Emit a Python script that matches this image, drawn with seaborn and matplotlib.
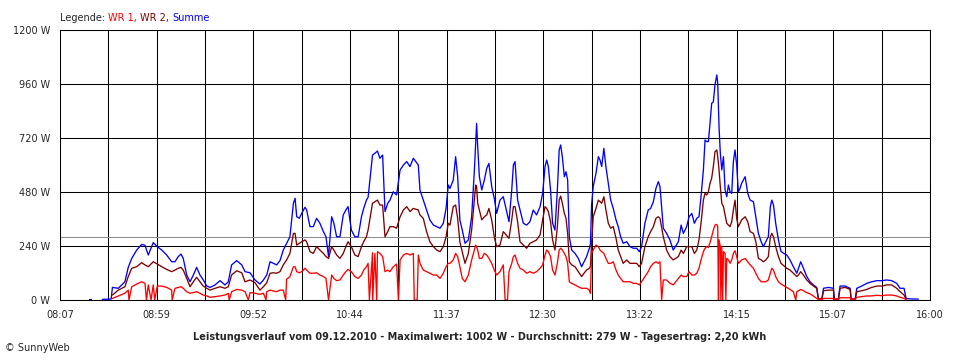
import numpy as np
import pandas as pd
import seaborn as sns
import matplotlib.pyplot as plt

# --- data (minutes after 08:07, watts) ---
t_min = [28.5, 31.7, 35.3, 37.1, 39.0, 41.7, 44.4, 46.2, 48.0, 50.7, 52.9, 55.3, 58.0, 60.7, 62.5,
         64.3, 65.8, 67.0, 68.9, 70.7, 72.5, 74.3, 76.1, 77.9, 79.8, 81.6, 84.3, 87.0, 89.7, 91.5,
         93.3, 96.1, 98.8, 100.6, 103.3, 106.0, 108.7, 110.6, 112.4, 114.2, 116.0, 117.8, 119.6, 121.4,
         123.2, 125.0, 126.9, 127.8, 128.7, 130.1, 131.4, 133.2, 134.1, 135.9, 137.7, 139.5, 141.3,
         143.2, 144.6, 146.0, 147.7, 148.9, 150.4, 152.2, 154.0, 155.4, 156.6, 158.4, 160.3, 162.1,
         163.9, 165.1, 166.6, 167.5, 169.9, 171.2, 172.6, 173.9, 175.4, 176.7, 178.2, 179.4, 181.2,
         183.0, 184.9, 186.7, 188.5, 190.3, 192.1, 194.8, 195.7, 197.5, 199.3, 201.1, 203.0, 204.8,
         206.6, 208.4, 209.9, 211.1, 212.0, 213.8, 215.1, 216.2, 217.4, 218.7, 220.2, 222.0, 223.8,
         225.3, 226.0, 226.5, 227.1, 228.0, 229.3, 230.7, 232.0, 233.2, 234.7, 236.1, 237.4, 239.2,
         241.0, 244.1, 245.6, 246.5, 247.4, 248.8, 250.1, 251.9, 253.7, 255.5, 257.3, 259.1, 261.0,
         262.4, 263.7, 264.6, 265.5, 266.7, 267.8, 269.1, 270.4, 271.4, 272.2, 273.1, 274.2, 275.1,
         276.0, 276.9, 278.2, 280.0, 281.8, 283.6, 284.9, 286.3, 287.8, 288.4, 289.0, 289.9, 291.4,
         292.7, 293.6, 294.5, 295.7, 296.8, 298.1, 299.4, 300.8, 302.3, 303.5, 304.8, 306.2, 308.1,
         309.9, 311.7, 313.5, 315.0, 316.2, 318.0, 319.8, 321.1, 322.6, 324.0, 325.3, 326.2, 328.0,
         329.8, 331.6, 333.4, 336.2, 337.7, 338.9, 340.7, 342.0, 343.5, 344.9, 346.2, 347.4, 348.5,
         349.8, 350.7, 351.6, 352.5, 353.4, 354.3, 355.2, 356.1, 357.1, 357.6, 358.3, 359.0, 359.8,
         360.7, 361.6, 362.5, 363.4, 364.3, 365.2, 366.1, 367.0, 367.9, 368.8, 369.7, 370.6, 372.5,
         373.9, 375.2, 377.0, 378.3, 379.7, 381.2, 382.4, 383.7, 385.1, 386.2, 387.0, 387.9, 389.1,
         390.6, 392.0, 395.1, 396.9, 398.7, 400.6, 401.5, 402.7, 404.2, 406.0, 407.8, 409.6, 411.4,
         412.3, 414.2, 415.1, 417.8, 420.5, 421.0, 423.2, 424.1, 426.8, 429.6, 430.1, 432.3, 433.2,
         435.9, 438.6, 441.3, 444.1, 446.8, 449.5, 452.2, 454.9, 456.7, 458.9, 460.0]

wr1 = [7, 18, 30, 44, 59, 71, 81, 74, 67, 67, 62, 62, 56, 44, 52,
       56, 59, 52, 37, 30, 33, 37, 30, 22, 18, 12, 15, 18, 22, 30,
       37, 47, 44, 37, 33, 30, 25, 30, 37, 44, 40, 37, 44, 44,
       92, 104, 148, 148, 126, 121, 126, 141, 133, 119, 119, 121, 111,
       104, 96, 0, 111, 96, 86, 89, 111, 126, 136, 126, 104, 96,
       111, 133, 148, 163, 210, 207, 215, 207, 193, 126, 133, 126, 148,
       160, 178, 200, 207, 200, 207, 200, 163, 133, 126, 119, 111, 111,
       96, 119, 148, 163, 163, 178, 207, 193, 148, 96, 81, 111, 178,
       222, 244, 237, 222, 185, 185, 207, 200, 185, 163, 133, 111, 126,
       156, 126, 163, 193, 200, 163, 141, 133, 119, 126, 119, 126, 141,
       156, 200, 222, 215, 193, 133, 111, 163, 222, 230, 222, 207, 193,
       163, 81, 74, 67, 59, 52, 52, 52, 44, 30, 207, 222, 244,
       237, 222, 215, 207, 185, 163, 163, 170, 133, 111, 96, 81, 81,
       81, 74, 74, 67, 81, 104, 126, 148, 163, 170, 163, 170, 89,
       89, 74, 67, 96, 111, 104, 104, 126, 111, 111, 119, 141, 178,
       215, 230, 237, 234, 255, 281, 311, 333, 336, 326, 267, 237, 237,
       215, 207, 185, 178, 163, 178, 207, 219, 193, 163, 170, 178, 185,
       170, 156, 141, 119, 96, 81, 81, 81, 89, 119, 141, 133, 104,
       81, 71, 56, 47, 37, 37, 41, 47, 41, 33, 27, 18, 7,
       3, 3, 7, 7, 7, 3, 3, 10, 10, 10, 3, 3, 12,
       15, 18, 18, 21, 19, 22, 22, 18, 12, 7, 2]

wr2 = [22, 44, 59, 104, 141, 148, 166, 156, 148, 170, 160, 148, 136, 126, 133,
       141, 145, 133, 96, 59, 81, 101, 81, 62, 52, 44, 52, 59, 52, 59,
       111, 130, 121, 81, 89, 77, 44, 59, 77, 119, 121, 119, 126, 156,
       178, 207, 296, 296, 244, 252, 259, 267, 259, 215, 207, 237, 222,
       207, 193, 185, 237, 222, 200, 185, 207, 237, 259, 237, 200, 193,
       237, 259, 281, 311, 430, 437, 444, 422, 422, 281, 304, 326, 326,
       319, 370, 400, 415, 393, 407, 400, 378, 363, 304, 259, 237, 222,
       215, 237, 281, 341, 333, 415, 422, 363, 259, 215, 163, 207, 311,
       444, 511, 504, 430, 400, 356, 370, 378, 407, 356, 281, 237, 244,
       304, 274, 356, 415, 415, 348, 259, 244, 230, 252, 259, 267, 289,
       356, 415, 407, 393, 348, 267, 222, 326, 444, 462, 430, 385, 363,
       296, 170, 156, 148, 126, 104, 119, 133, 141, 150, 252, 370, 407,
       444, 437, 430, 459, 400, 341, 319, 326, 274, 222, 193, 163, 178,
       163, 163, 163, 148, 163, 237, 281, 304, 326, 363, 370, 363, 281,
       222, 193, 178, 193, 222, 207, 237, 237, 237, 207, 222, 267, 341,
       444, 474, 467, 481, 519, 541, 593, 659, 667, 637, 578, 504, 430,
       415, 378, 341, 333, 326, 348, 400, 444, 363, 326, 341, 356, 370,
       348, 304, 296, 259, 185, 178, 170, 178, 193, 281, 296, 281, 237,
       193, 163, 141, 133, 119, 104, 111, 126, 111, 89, 74, 62, 52,
       5, 3, 41, 44, 44, 3, 3, 52, 56, 47, 3, 3, 37,
       41, 47, 56, 62, 62, 67, 67, 52, 37, 22, 2]

summe = [56, 52, 81, 145, 185, 222, 247, 243, 200, 255, 237, 222, 200, 170, 170,
         193, 204, 185, 111, 81, 111, 145, 111, 89, 62, 56, 67, 86, 67, 81,
         156, 175, 156, 126, 121, 89, 71, 89, 111, 170, 163, 156, 175, 222,
         252, 281, 430, 452, 370, 363, 385, 412, 400, 326, 326, 363, 341,
         304, 281, 193, 370, 341, 281, 281, 378, 400, 415, 311, 281, 281,
         370, 407, 444, 456, 644, 652, 662, 630, 644, 393, 430, 444, 481,
         467, 578, 600, 615, 593, 630, 600, 489, 444, 400, 356, 333, 326,
         319, 341, 407, 511, 496, 533, 637, 548, 356, 311, 252, 267, 370,
         578, 704, 785, 681, 548, 489, 533, 585, 607, 504, 452, 385, 444,
         459, 348, 489, 600, 615, 444, 400, 341, 333, 348, 400, 378, 415,
         474, 593, 622, 593, 489, 341, 311, 489, 667, 689, 637, 548, 570,
         533, 281, 222, 207, 185, 148, 170, 193, 230, 250, 422, 504, 563,
         637, 622, 593, 674, 593, 519, 444, 407, 356, 326, 281, 252, 259,
         237, 230, 230, 215, 237, 341, 400, 407, 437, 496, 526, 504, 319,
         296, 267, 222, 259, 333, 296, 326, 370, 385, 341, 363, 370, 459,
         578, 711, 704, 704, 785, 874, 881, 956, 1000, 963, 770, 652, 578,
         637, 489, 459, 511, 481, 474, 615, 667, 600, 481, 496, 519, 548,
         474, 444, 437, 370, 296, 259, 237, 259, 281, 415, 444, 422, 341,
         267, 215, 200, 178, 148, 119, 141, 170, 141, 104, 81, 67, 56,
         7, 4, 52, 56, 52, 4, 4, 62, 62, 52, 4, 4, 52,
         62, 74, 81, 86, 86, 89, 86, 74, 52, 52, 7]

# short drop-outs of WR 1 to 0 W
wr1_drop_t = [37.5, 47.0, 49.5, 51.5, 61.0, 92.0, 102.4, 112.0, 122.7, 168.2, 170.0, 172.2,
              184.0, 192.6, 194.2, 242.0, 243.3, 327.1, 358.0, 359.3, 360.3, 362.0, 400.0]

# Summe before WR 1 / WR 2 come online and after they switch off
summe_dot_t = [15.5, 17.0]
summe_dot_w = [4, 4]
summe_head_t = [23.0, 27.8]
summe_head_w = [3, 4]
summe_tail_t = [462.0, 466.7]
summe_tail_w = [5, 4]

average_w = 279
y_ticks = [0, 240, 480, 720, 960, 1200]
x_labels = ["08:07", "08:59", "09:52", "10:44", "11:37", "12:30", "13:22", "14:15", "15:07", "16:00"]
day_minutes = 473

title = ("Leistungsverlauf vom 09.12.2010 - Maximalwert: 1002 W - "
         "Durchschnitt: 279 W - Tagesertrag: 2,20 kWh")

# --- build long table ---
rows = []
for t, w in zip(t_min + wr1_drop_t, wr1 + [0] * len(wr1_drop_t)):
    rows.append(("WR 1", 0, t, w))
for t, w in zip(t_min, wr2):
    rows.append(("WR 2", 0, t, w))
for t, w in zip(summe_head_t + t_min + summe_tail_t, summe_head_w + summe + summe_tail_w):
    rows.append(("Summe", 0, t, w))
for t, w in zip(summe_dot_t, summe_dot_w):
    rows.append(("Summe", 1, t, w))
df = pd.DataFrame(rows, columns=["series", "seg", "t", "w"])

colors = {"WR 1": "#ff0000", "WR 2": "#800000", "Summe": "#0000ff"}

sns.set_style("white")
plt.rcParams['font.family'] = ['DejaVu Sans']

fig = plt.figure(figsize=(9.6, 3.6), dpi=100)
ax = fig.add_axes([60 / 960, 60 / 360, 870 / 960, 270 / 360])

# grid
for x in np.linspace(0, day_minutes, 19):
    ax.axvline(x, color="black", lw=0.75, zorder=1)
for y in y_ticks:
    ax.axhline(y, color="black", lw=0.75, zorder=1)
ax.axhline(average_w, color="#8c8c8c", lw=0.75, zorder=1.5)

for name in ["Summe", "WR 2", "WR 1"]:
    sub = df[df.series == name]
    sns.lineplot(data=sub, x="t", y="w", units="seg", estimator=None, color=colors[name],
                 lw=0.95, ax=ax, zorder=3)

ax.set_xlim(0, day_minutes)
ax.set_ylim(0, 1200)
ax.set_xticks(np.linspace(0, day_minutes, 19))
labels = []
for i in range(19):
    labels.append(x_labels[i // 2] if i % 2 == 0 else "")
ax.set_xticklabels(labels, fontsize=7)
ax.set_yticks(y_ticks)
ax.set_yticklabels([f"{v} W" for v in y_ticks], fontsize=7)
ax.tick_params(axis="both", direction="out", length=5, width=0.75, color="black", pad=2)
ax.set_xlabel("")
ax.set_ylabel("")
for s in ax.spines.values():
    s.set_color("black")
    s.set_linewidth(0.75)

fig.text(0.5, 1 - 337 / 360, title, ha="center", va="center", fontsize=7, fontweight="bold")
fig.text(5 / 960, 1 - 348 / 360, "\u00a9 SunnyWeb", ha="left", va="center", fontsize=7)

# multi-coloured legend line
prev = fig.text(60 / 960, 1 - 23 / 360, "Legende: ", ha="left", va="bottom", fontsize=7)
for txt, col in [("WR 1, ", colors["WR 1"]), ("WR 2, ", colors["WR 2"]), ("Summe", colors["Summe"])]:
    prev = ax.annotate(txt, xy=(1, 0), xycoords=prev, ha="left", va="bottom", fontsize=7, color=col)

fig.savefig("out.png", dpi=100)
